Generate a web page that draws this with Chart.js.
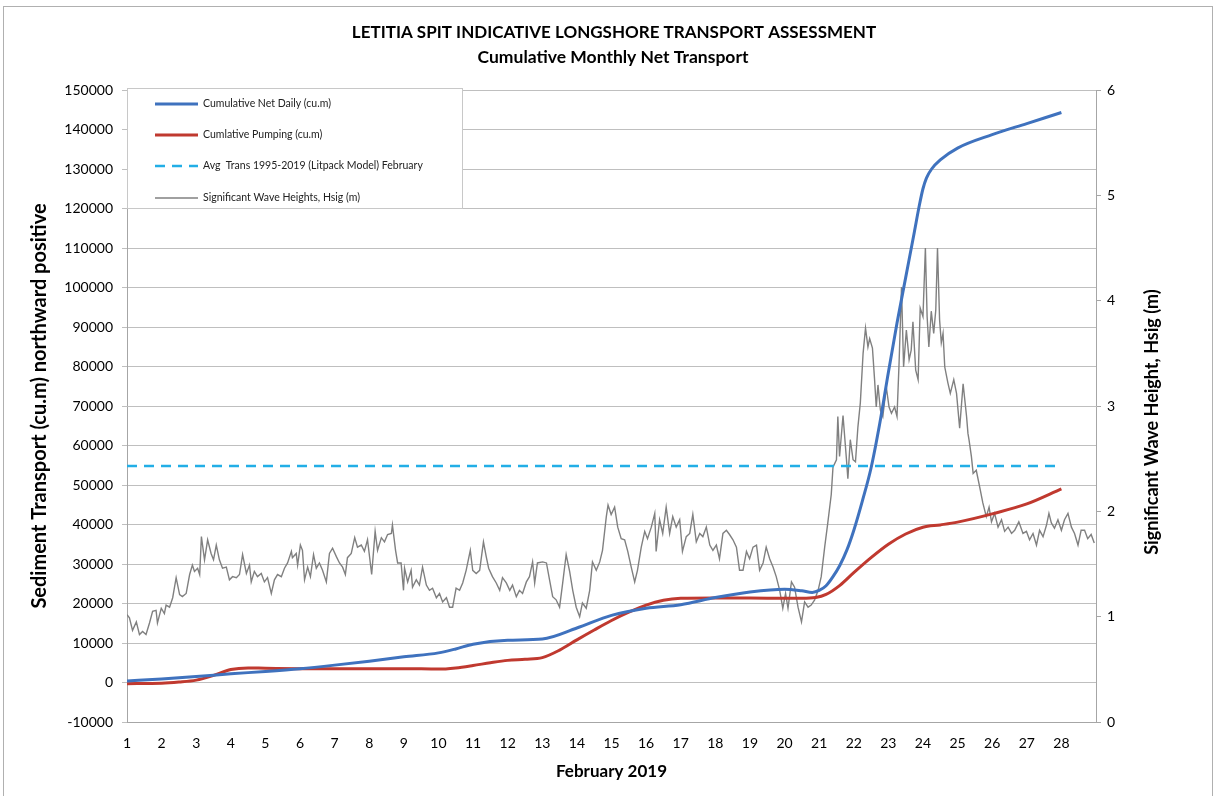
<!DOCTYPE html>
<html><head><meta charset="utf-8">
<script src="https://cdn.jsdelivr.net/npm/chart.js@4.4.1/dist/chart.umd.min.js"></script>
<style>html,body{margin:0;padding:0;background:#fff;}canvas{display:block;}</style>
</head><body>
<canvas id="c" width="1219" height="796"></canvas>
<script>
// ---------- DATA ----------
const chartTitle = "LETITIA SPIT INDICATIVE LONGSHORE TRANSPORT ASSESSMENT";
const chartSubtitle = "Cumulative Monthly Net Transport";
const xTitle = "February 2019";
const yLeftTitle = "Sediment Transport (cu.m) northward positive";
const yRightTitle = "Significant Wave Height, Hsig (m)";
const dayTicks = [1,2,3,4,5,6,7,8,9,10,11,12,13,14,15,16,17,18,19,20,21,22,23,24,25,26,27,28];

const seriesLabels = [
  "Cumulative Net Daily (cu.m)",
  "Cumlative Pumping (cu.m)",
  "Avg  Trans 1995-2019 (Litpack Model) February",
  "Significant Wave Heights, Hsig (m)"
];

const netDays = [1,2,3,4,5,6,7,8,9,10,10.5,11,12,13,14,15,16,17,18,19,20,20.5,20.8,21,21.2,21.4,21.6,21.8,22,22.25,22.5,22.75,23,23.25,23.5,23.75,23.9,24,24.1,24.25,24.5,25,26,27,28];
const netValues = [400,900,1500,2200,2800,3500,4400,5400,6500,7500,8500,9700,10700,11000,13800,17000,18800,19700,21500,22900,23600,23200,22800,23300,24500,26800,29700,33500,38500,46000,54300,65500,78500,91000,102500,114000,121000,125000,127700,130000,132300,135300,138700,141500,144300];

const pumpDays = [1,2,2.5,3,3.5,4,4.5,5,6,7,8,9,10,10.5,11,11.5,12,12.5,13,13.5,14,14.5,15,15.5,16,16.5,17,18,19,20,20.5,20.9,21.2,21.6,22,22.5,23,23.5,24,24.5,25,26,27,28];
const pumpValues = [-300,-200,100,600,1800,3300,3700,3600,3500,3500,3500,3500,3400,3700,4300,5000,5600,5900,6300,8200,10800,13300,15700,17800,19600,20800,21300,21400,21400,21300,21300,21500,22300,24600,27800,31600,35000,37600,39300,39900,40600,42700,45200,49000];

const avgDays = [1,28];
const avgValues = [54800,54800];

const waveDays = [
  1.00,1.07,1.16,1.27,1.36,1.45,1.55,1.65,1.74,1.84,1.88,1.99,2.08,2.13,2.23,2.32,2.42,2.52,2.60,2.71,
  2.81,2.89,2.95,3.04,3.10,3.15,3.24,3.33,3.43,3.50,3.58,3.67,3.76,3.87,3.96,4.05,4.16,4.25,4.34,4.45,
  4.54,4.59,4.68,4.77,4.88,4.97,5.06,5.17,5.26,5.35,5.46,5.55,5.64,5.75,5.78,5.89,5.93,6.01,6.07,6.13,
  6.22,6.30,6.39,6.47,6.56,6.65,6.76,6.85,6.94,7.05,7.14,7.23,7.31,7.37,7.48,7.58,7.66,7.77,7.86,7.95,
  8.07,8.17,8.24,8.35,8.44,8.53,8.64,8.67,8.76,8.82,8.92,8.99,
  9.02,9.11,9.21,9.25,9.36,9.45,9.54,9.65,9.74,9.83,9.94,10.03,10.12,10.23,10.32,10.41,10.51,10.61,10.70,10.80,
  10.92,10.99,11.09,11.19,11.30,11.38,11.45,11.56,11.67,11.77,11.85,11.96,12.06,12.14,12.25,12.34,12.43,12.54,12.63,12.72,
  12.78,12.86,13.01,13.12,13.21,13.30,13.40,13.50,13.59,13.69,13.79,13.88,13.98,14.08,14.16,14.27,14.37,14.45,14.56,14.66,
  14.74,14.85,14.90,14.99,15.09,15.18,15.28,15.38,15.47,15.57,15.67,15.75,15.86,15.96,16.04,16.15,16.25,16.29,16.39,16.48,
  16.58,16.68,16.77,16.87,16.97,17.05,17.16,
  17.26,17.35,17.45,17.55,17.64,17.74,17.84,17.93,18.03,18.12,18.22,18.32,18.41,18.51,18.61,18.70,18.80,18.90,18.99,19.09,
  19.19,19.28,19.38,19.47,19.57,19.67,19.76,19.86,19.95,20.03,20.10,20.20,20.29,20.39,20.49,20.58,20.68,20.77,20.87,20.97,
  21.06,21.16,21.25,21.35,
  21.40,21.50,21.54,21.59,21.69,21.79,21.83,21.90,21.98,22.05,22.12,22.19,22.27,22.34,22.41,22.46,22.54,22.60,22.65,22.70,
  22.77,22.84,22.94,23.02,23.09,23.18,23.25,23.31,23.38,23.44,23.52,23.60,23.66,23.71,23.79,23.86,23.92,24.00,24.07,24.12,
  24.17,24.24,24.31,24.37,24.42,24.48,24.53,24.58,24.63,24.72,24.79,24.89,24.97,25.06,25.16,25.26,25.30,25.33,
  25.40,25.45,25.54,25.64,25.73,25.83,25.91,25.98,26.07,26.17,26.27,26.36,26.46,26.56,26.65,26.77,26.89,26.99,27.08,27.18,
  27.28,27.37,27.47,27.57,27.64,27.71,27.80,27.90,28.00,28.09,28.19,28.29,28.38,28.48,28.57,28.67,28.76,28.86,28.95
];
const waveHs = [
  1.02,0.99,0.87,0.95,0.83,0.86,0.83,0.94,1.05,1.06,0.94,1.08,1.03,1.11,1.09,1.18,1.37,1.21,1.19,1.22,
  1.40,1.49,1.43,1.46,1.40,1.76,1.54,1.73,1.60,1.54,1.68,1.54,1.46,1.47,1.35,1.38,1.37,1.40,1.59,1.41,
  1.49,1.33,1.43,1.38,1.41,1.33,1.37,1.22,1.35,1.40,1.38,1.46,1.51,1.62,1.56,1.60,1.49,1.68,1.63,1.35,
  1.47,1.38,1.59,1.46,1.51,1.44,1.33,1.60,1.65,1.57,1.51,1.47,1.40,1.56,1.60,1.75,1.66,1.68,1.62,1.73,
  1.40,1.81,1.63,1.75,1.71,1.78,1.79,1.87,1.63,1.51,1.51,1.25,
  1.46,1.33,1.44,1.28,1.35,1.30,1.47,1.30,1.25,1.27,1.18,1.22,1.14,1.18,1.09,1.09,1.27,1.25,1.32,1.44,
  1.63,1.44,1.41,1.44,1.71,1.57,1.46,1.38,1.32,1.25,1.37,1.32,1.25,1.30,1.19,1.25,1.22,1.33,1.38,1.52,
  1.32,1.51,1.52,1.51,1.35,1.19,1.16,1.09,1.32,1.59,1.43,1.25,1.09,1.00,1.13,1.08,1.25,1.52,1.44,1.52,
  1.63,1.95,2.06,1.97,2.04,1.85,1.74,1.73,1.62,1.47,1.33,1.44,1.66,1.81,1.74,1.85,1.98,1.62,1.92,1.79,
  2.04,1.79,1.95,1.85,1.92,1.62,1.76,
  1.79,1.97,1.71,1.79,1.76,1.85,1.68,1.63,1.68,1.55,1.79,1.82,1.78,1.73,1.66,1.44,1.44,1.62,1.55,1.66,
  1.68,1.44,1.51,1.66,1.55,1.47,1.38,1.25,1.08,1.22,1.08,1.33,1.28,1.09,0.95,1.14,1.09,1.11,1.16,1.25,
  1.38,1.66,1.89,2.16,
  2.42,2.49,2.90,2.52,2.91,2.49,2.31,2.68,2.49,2.47,2.80,3.03,3.50,3.74,3.56,3.64,3.55,3.26,2.99,3.20,
  2.96,2.90,3.18,2.99,2.93,2.99,2.90,3.41,4.13,3.37,3.72,3.44,3.53,3.80,3.34,3.25,3.93,3.85,4.50,3.85,
  3.56,3.90,3.69,3.91,4.50,3.82,3.60,3.69,3.37,3.22,3.12,3.25,3.12,2.79,3.21,2.90,2.74,2.68,
  2.52,2.36,2.39,2.23,2.08,1.95,2.04,1.90,1.98,1.85,1.92,1.81,1.85,1.79,1.82,1.90,1.79,1.81,1.73,1.79,
  1.68,1.82,1.76,1.87,1.98,1.89,1.84,1.92,1.82,1.92,1.98,1.85,1.79,1.68,1.82,1.82,1.74,1.78,1.70
];

// ---------- BUILD ----------
const pairs = (xs, ys) => xs.map((x, i) => ({x: x, y: ys[i]}));
const FONT = 'Lato, "Open Sans", sans-serif';

const titlePlugin = {
  id: 'titles',
  afterDraw(chart) {
    const ctx = chart.ctx;
    ctx.save();
    ctx.fillStyle = '#000';
    ctx.textAlign = 'center';
    ctx.textBaseline = 'middle';
    ctx.font = 'bold 17px ' + FONT;
    ctx.fillText(chartTitle, 614, 33);
    ctx.font = 'bold 17.5px ' + FONT;
    ctx.fillText(chartSubtitle, 613, 57);
    // right axis title, reading bottom-to-top
    ctx.translate(1152, 422);
    ctx.rotate(-Math.PI / 2);
    ctx.font = 'bold 18px ' + FONT;
    ctx.fillText(yRightTitle, 0, 0);
    ctx.restore();
    // outer frame
    ctx.save();
    ctx.strokeStyle = '#b0b0b0';
    ctx.lineWidth = 1;
    ctx.strokeRect(3.5, 6.5, 1209, 800);
    ctx.restore();
  }
};

const legendPlugin = {
  id: 'boxLegend',
  beforeDatasetsDraw(chart) {
    const ctx = chart.ctx;
    const a = chart.chartArea;
    const bx = a.left + 0.5, by = a.top - 1.5, bw = 335, bh = 120;
    ctx.save();
    ctx.fillStyle = '#fff';
    ctx.fillRect(bx, by, bw, bh);
    ctx.strokeStyle = '#c8c8c8';
    ctx.lineWidth = 1;
    ctx.strokeRect(bx, by, bw, bh);
    const rows = [104, 135, 166, 198];
    chart.data.datasets.forEach((ds, i) => {
      const y = rows[i];
      ctx.strokeStyle = ds.borderColor;
      ctx.lineWidth = Math.min(ds.borderWidth, 3);
      ctx.setLineDash(ds.borderDash || []);
      ctx.beginPath();
      ctx.moveTo(155, y);
      ctx.lineTo(198, y);
      ctx.stroke();
      ctx.setLineDash([]);
      ctx.fillStyle = '#222';
      ctx.font = '10.5px ' + FONT;
      ctx.textAlign = 'left';
      ctx.textBaseline = 'middle';
      ctx.fillText(ds.label, 203, y);
    });
    ctx.restore();
  }
};

new Chart(document.getElementById('c'), {
  type: 'line',
  data: {
    datasets: [
      {label: seriesLabels[0], data: pairs(netDays, netValues), yAxisID: 'y',
       borderColor: '#3F72BE', borderWidth: 3, pointRadius: 0, cubicInterpolationMode: 'monotone', order: 1},
      {label: seriesLabels[1], data: pairs(pumpDays, pumpValues), yAxisID: 'y',
       borderColor: '#C0392F', borderWidth: 3, pointRadius: 0, cubicInterpolationMode: 'monotone', order: 2},
      {label: seriesLabels[2], data: pairs(avgDays, avgValues), yAxisID: 'y',
       borderColor: '#22AEE6', borderWidth: 2.5, borderDash: [10, 7], pointRadius: 0, order: 3},
      {label: seriesLabels[3], data: pairs(waveDays, waveHs), yAxisID: 'y1',
       borderColor: '#808080', borderWidth: 1.4, pointRadius: 0, tension: 0, order: 4}
    ]
  },
  options: {
    responsive: false,
    animation: false,
    devicePixelRatio: 1,
    layout: {padding: {top: 90, left: 0, right: 0, bottom: 0}},
    plugins: {legend: {display: false}, title: {display: false}, tooltip: {enabled: false}},
    scales: {
      x: {
        type: 'linear', position: 'bottom', min: 1, max: 29,
        afterBuildTicks: s => { s.ticks = dayTicks.map(v => ({value: v})); },
        afterFit: s => { s.height = 74; },
        ticks: {autoSkip: false, maxRotation: 0, padding: 13, color: '#000', font: {family: FONT, size: 14}},
        grid: {display: false, drawTicks: false},
        border: {display: true, color: '#a6a6a6', width: 1},
        title: {display: true, text: xTitle, color: '#000', font: {family: FONT, size: 17, weight: 'bold'}, padding: {top: 0, bottom: 14}}
      },
      y: {
        position: 'left', min: -10000, max: 150000,
        afterFit: s => { s.width = 127; },
        ticks: {stepSize: 10000, padding: 9, color: '#000', font: {family: FONT, size: 14},
                callback: v => String(v)},
        grid: {color: '#bfbfbf', lineWidth: 1, tickLength: 5},
        border: {display: true, color: '#a6a6a6', width: 1},
        title: {display: true, text: yLeftTitle, color: '#000', font: {family: FONT, size: 20, weight: 'bold'}, padding: {top: 28, bottom: 0}}
      },
      y1: {
        position: 'right', min: 0, max: 6,
        afterFit: s => { s.width = 123; },
        ticks: {stepSize: 1, padding: 6, color: '#000', font: {family: FONT, size: 14}},
        grid: {drawOnChartArea: false, color: '#a6a6a6', tickLength: 5},
        border: {display: true, color: '#a6a6a6', width: 1}
      }
    }
  },
  plugins: [legendPlugin, titlePlugin]
});
</script>
</body></html>
